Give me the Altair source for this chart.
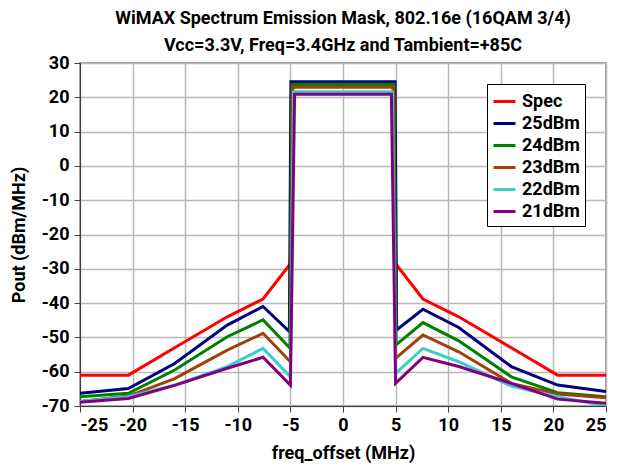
import altair as alt
import pandas as pd

series = ["Spec", "25dBm", "24dBm", "23dBm", "22dBm", "21dBm"]
colors = ["#FF0000", "#000080", "#008000", "#A0400A", "#3CCCCC", "#800080"]

x_spec = [-25, -20.4, -16, -11, -7.6, -5, -4.75, 4.75, 5, 7.6, 11, 16, 20.4, 25]
y_spec = [-61, -61, -53, -44, -38.8, -28.5, 23.5, 23.5, -28.5, -38.8, -44, -53, -61, -61]

x_25 = [-25, -20.4, -16, -11, -7.6, -5.1, -4.95, 4.95, 5.1, 7.6, 11, 16, 20.4, 25]
y_25 = [-66.3, -64.9, -57.6, -46.4, -41.0, -48.3, 24.5, 24.5, -47.8, -41.8, -47.1, -58.5, -63.9, -65.8]

x_24 = [-25, -20.4, -16, -11, -7.6, -5.05, -4.85, 4.85, 5.05, 7.6, 11, 16, 20.4, 25]
y_24 = [-67.3, -66.3, -59.5, -49.8, -44.9, -53.1, 23.8, 23.8, -52.2, -45.7, -51.0, -61.5, -66.1, -67.3]

x_23 = [-25, -20.4, -16, -11, -7.6, -5.0, -4.8, 4.8, 5.0, 7.6, 11, 16, 20.4, 25]
y_23 = [-68.7, -67.1, -62.0, -53.7, -48.8, -57.1, 22.9, 22.9, -56.1, -49.3, -54.2, -63.4, -66.5, -67.6]

x_22 = [-25, -20.4, -16, -11, -7.6, -5.0, -4.7, 4.7, 5.0, 7.6, 11, 16, 20.4, 25]
y_22 = [-68.7, -67.3, -63.9, -58.5, -53.2, -61.5, 21.6, 21.6, -60.5, -53.2, -57.1, -64.2, -67.3, -70.0]

x_21 = [-25, -20.4, -16, -11, -7.6, -5.0, -4.6, 4.6, 5.0, 7.6, 11, 16, 20.4, 25]
y_21 = [-68.9, -67.8, -64.0, -59.0, -55.8, -63.9, 20.9, 20.9, -63.4, -55.8, -58.5, -63.4, -68.0, -69.2]

xs = [x_spec, x_25, x_24, x_23, x_22, x_21]
ys = [y_spec, y_25, y_24, y_23, y_22, y_21]

rows = []
for si, (name, xv, yv) in enumerate(zip(series, xs, ys)):
    for i, (a, b) in enumerate(zip(xv, yv)):
        rows.append({"series": name, "x": a, "y": b, "idx": i, "z": si})
df = pd.DataFrame(rows)

FONT = "Roboto"

chart = alt.Chart(df).mark_line(strokeWidth=3, clip=True).encode(
    x=alt.X("x:Q", scale=alt.Scale(domain=[-25, 25], nice=False),
            axis=alt.Axis(values=list(range(-25, 26, 5)), title="freq_offset (MHz)",
                          labelExpr="'' + datum.value",
                          labelFontSize=18, titleFontSize=18, labelFontWeight="bold",
                          titleFontWeight="bold", labelFont=FONT, titleFont=FONT,
                          titlePadding=10, labelPadding=4)),
    y=alt.Y("y:Q", scale=alt.Scale(domain=[-70, 30], nice=False),
            axis=alt.Axis(values=list(range(-70, 31, 10)), title="Pout (dBm/MHz)",
                          labelExpr="'' + datum.value",
                          labelFontSize=18, titleFontSize=18, labelFontWeight="bold",
                          titleFontWeight="bold", labelFont=FONT, titleFont=FONT,
                          titlePadding=13, labelPadding=5)),
    color=alt.Color("series:N", scale=alt.Scale(domain=series, range=colors),
                    legend=alt.Legend(title=None, orient="none", legendX=407, legendY=21,
                                      symbolType="stroke", symbolStrokeWidth=3, symbolSize=484,
                                      labelFontSize=18, labelFontWeight="bold", labelFont=FONT,
                                      rowPadding=0, padding=5, strokeColor="black",
                                      fillColor="white", labelColor="black", labelOffset=5)),
    detail="series:N",
    order=alt.Order("idx:Q"),
).properties(
    width=526, height=343,
    title=alt.Title(["WiMAX Spectrum Emission Mask, 802.16e (16QAM 3/4)",
                     "Vcc=3.3V, Freq=3.4GHz and Tambient=+85C"],
                    fontSize=18, font=FONT, fontWeight="bold", anchor="middle",
                    lineHeight=27, offset=-1),
    padding={"left": 72, "top": 55, "right": 5, "bottom": 60},
    autosize="none",
).configure_axis(
    gridColor="#b8b8b8", gridWidth=1.5, domainColor="#404040", tickColor="#404040",
    labelColor="black", titleColor="black", tickSize=6
).configure_view(stroke="#808080", strokeWidth=1.5)

chart.save("out.html", embed_options={"renderer": "svg", "actions": False})
